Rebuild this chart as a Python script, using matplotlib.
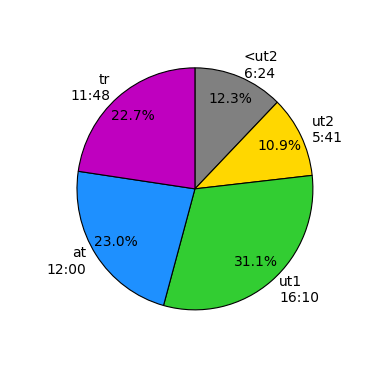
import matplotlib
matplotlib.use('Agg')
import matplotlib.pyplot as plt

# time per category (label shown as min:sec), values in seconds
names = ['<ut2', 'ut2', 'ut1', 'at', 'tr']
times = ['6:24', '5:41', '16:10', '12:00', '11:48']
seconds = [384, 341, 970, 719, 708]
colors = ['gray', 'gold', 'limegreen', 'dodgerblue', 'm']

labels = [n + '\n' + t for n, t in zip(names, times)]

fig = plt.figure(figsize=(3.8, 3.8), dpi=100)
ax = fig.add_axes([0.125, 0.105, 0.776, 0.796])
ax.pie(seconds, labels=labels, colors=colors, autopct='%1.1f%%',
       pctdistance=0.8, startangle=90, counterclock=False,
       wedgeprops={'edgecolor': 'black', 'linewidth': 0.8})
# reference is a touch taller than wide
ax.set_aspect('auto')
ax.set_xlim(-1.25, 1.25)
ax.set_ylim(-1.25, 1.25)
fig.savefig('out.png', dpi=100)
